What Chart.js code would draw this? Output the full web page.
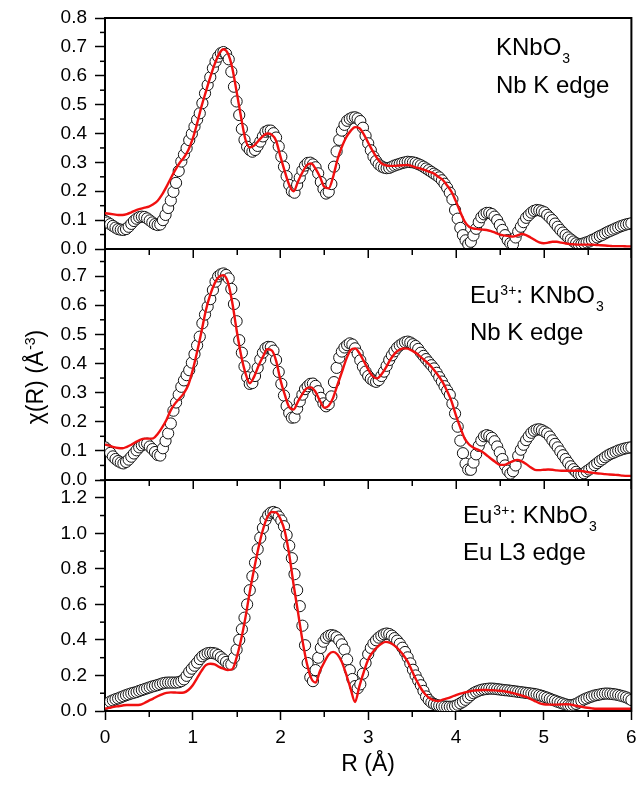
<!DOCTYPE html>
<html>
<head>
<meta charset="utf-8">
<script src="https://cdn.jsdelivr.net/npm/chart.js@4.4.1/dist/chart.umd.min.js"></script>
<style>
  html, body { margin: 0; padding: 0; background: #fff; }
  #wrap { width: 638px; height: 787px; }
</style>
</head>
<body>
<div id="wrap"><canvas id="chart" width="638" height="787"></canvas></div>
<script>
// ---- data ----------------------------------------------------------
// R grid of the measured points (Å)
const rExp = [
  0, 0.03, 0.06, 0.09, 0.12, 0.15, 0.18, 0.21, 0.24, 0.27,
  0.3, 0.33, 0.36, 0.39, 0.42, 0.45, 0.48, 0.51, 0.54, 0.57,
  0.6, 0.63, 0.66, 0.69, 0.72, 0.75, 0.78, 0.81, 0.84, 0.87,
  0.9, 0.93, 0.96, 0.99, 1.02, 1.05, 1.08, 1.11, 1.14, 1.17,
  1.2, 1.23, 1.26, 1.29, 1.32, 1.35, 1.38, 1.41, 1.44, 1.47,
  1.5, 1.53, 1.56, 1.59, 1.62, 1.65, 1.68, 1.71, 1.74, 1.77,
  1.8, 1.83, 1.86, 1.89, 1.92, 1.95, 1.98, 2.01, 2.04, 2.07,
  2.1, 2.13, 2.16, 2.19, 2.22, 2.25, 2.28, 2.31, 2.34, 2.37,
  2.4, 2.43, 2.46, 2.49, 2.52, 2.55, 2.58, 2.61, 2.64, 2.67,
  2.7, 2.73, 2.76, 2.79, 2.82, 2.85, 2.88, 2.91, 2.94, 2.97,
  3.0, 3.03, 3.06, 3.09, 3.12, 3.15, 3.18, 3.21, 3.24, 3.27,
  3.3, 3.33, 3.36, 3.39, 3.42, 3.45, 3.48, 3.51, 3.54, 3.57,
  3.6, 3.63, 3.66, 3.69, 3.72, 3.75, 3.78, 3.81, 3.84, 3.87,
  3.9, 3.93, 3.96, 3.99, 4.02, 4.05, 4.08, 4.11, 4.14, 4.17,
  4.2, 4.23, 4.26, 4.29, 4.32, 4.35, 4.38, 4.41, 4.44, 4.47,
  4.5, 4.53, 4.56, 4.59, 4.62, 4.65, 4.68, 4.71, 4.74, 4.77,
  4.8, 4.83, 4.86, 4.89, 4.92, 4.95, 4.98, 5.01, 5.04, 5.07,
  5.1, 5.13, 5.16, 5.19, 5.22, 5.25, 5.28, 5.31, 5.34, 5.37,
  5.4, 5.43, 5.46, 5.49, 5.52, 5.55, 5.58, 5.61, 5.64, 5.67,
  5.7, 5.73, 5.76, 5.79, 5.82, 5.85, 5.88, 5.91, 5.94, 5.97,
  6.0
];

// R grid of the fitted curves (Å)
const rFit = [
  0, 0.05, 0.1, 0.15, 0.2, 0.25, 0.3, 0.35, 0.4, 0.45,
  0.5, 0.55, 0.6, 0.65, 0.7, 0.75, 0.8, 0.85, 0.9, 0.95,
  1.0, 1.05, 1.1, 1.15, 1.2, 1.25, 1.3, 1.35, 1.4, 1.45,
  1.5, 1.55, 1.6, 1.65, 1.7, 1.75, 1.8, 1.85, 1.9, 1.95,
  2.0, 2.05, 2.1, 2.15, 2.2, 2.25, 2.3, 2.35, 2.4, 2.45,
  2.5, 2.55, 2.6, 2.65, 2.7, 2.75, 2.8, 2.85, 2.9, 2.95,
  3.0, 3.05, 3.1, 3.15, 3.2, 3.25, 3.3, 3.35, 3.4, 3.45,
  3.5, 3.55, 3.6, 3.65, 3.7, 3.75, 3.8, 3.85, 3.9, 3.95,
  4.0, 4.05, 4.1, 4.15, 4.2, 4.25, 4.3, 4.35, 4.4, 4.45,
  4.5, 4.55, 4.6, 4.65, 4.7, 4.75, 4.8, 4.85, 4.9, 4.95,
  5.0, 5.05, 5.1, 5.15, 5.2, 5.25, 5.3, 5.35, 5.4, 5.45,
  5.5, 5.55, 5.6, 5.65, 5.7, 5.75, 5.8, 5.85, 5.9, 5.95,
  6.0
];

// KNbO3, Nb K edge
const knbNbExp = [
  0.097, 0.092, 0.086, 0.080, 0.074, 0.069, 0.067, 0.066, 0.069, 0.077,
  0.087, 0.097, 0.105, 0.110, 0.112, 0.111, 0.106, 0.099, 0.092, 0.086,
  0.083, 0.085, 0.100, 0.118, 0.142, 0.168, 0.198, 0.229, 0.270, 0.303,
  0.327, 0.349, 0.377, 0.399, 0.424, 0.448, 0.470, 0.505, 0.539, 0.568,
  0.595, 0.626, 0.649, 0.666, 0.678, 0.682, 0.676, 0.657, 0.614, 0.562,
  0.511, 0.464, 0.416, 0.378, 0.354, 0.343, 0.337, 0.343, 0.357, 0.372,
  0.390, 0.406, 0.410, 0.410, 0.401, 0.386, 0.355, 0.320, 0.285, 0.252,
  0.222, 0.200, 0.195, 0.222, 0.247, 0.272, 0.289, 0.298, 0.299, 0.293,
  0.283, 0.262, 0.232, 0.208, 0.192, 0.198, 0.225, 0.285, 0.338, 0.378,
  0.410, 0.430, 0.444, 0.451, 0.455, 0.456, 0.452, 0.443, 0.420, 0.392,
  0.366, 0.342, 0.320, 0.305, 0.293, 0.286, 0.282, 0.280, 0.281, 0.285,
  0.289, 0.292, 0.295, 0.298, 0.300, 0.302, 0.301, 0.300, 0.298, 0.294,
  0.290, 0.285, 0.279, 0.273, 0.267, 0.261, 0.255, 0.248, 0.238, 0.226,
  0.212, 0.195, 0.172, 0.135, 0.105, 0.073, 0.048, 0.030, 0.017, 0.025,
  0.047, 0.070, 0.093, 0.110, 0.120, 0.125, 0.125, 0.121, 0.112, 0.100,
  0.083, 0.066, 0.048, 0.031, 0.020, 0.016, 0.040, 0.060, 0.077, 0.093,
  0.108, 0.117, 0.126, 0.132, 0.135, 0.134, 0.131, 0.127, 0.118, 0.109,
  0.100, 0.088, 0.077, 0.066, 0.057, 0.048, 0.040, 0.033, 0.026, 0.020,
  0.016, 0.017, 0.020, 0.023, 0.026, 0.031, 0.035, 0.040, 0.045, 0.049,
  0.054, 0.059, 0.063, 0.067, 0.071, 0.075, 0.079, 0.082, 0.085, 0.087,
  0.089
];
const knbNbFit = [
  0.124, 0.122, 0.120, 0.118, 0.118, 0.121, 0.127, 0.134, 0.139, 0.143,
  0.147, 0.155, 0.167, 0.188, 0.215, 0.245, 0.273, 0.298, 0.317, 0.343,
  0.382, 0.435, 0.494, 0.545, 0.595, 0.640, 0.676, 0.692, 0.678, 0.628,
  0.545, 0.458, 0.380, 0.352, 0.358, 0.375, 0.391, 0.400, 0.396, 0.375,
  0.320, 0.268, 0.222, 0.200, 0.234, 0.265, 0.290, 0.296, 0.278, 0.250,
  0.215, 0.210, 0.250, 0.310, 0.354, 0.387, 0.409, 0.422, 0.418, 0.397,
  0.368, 0.340, 0.315, 0.297, 0.290, 0.288, 0.288, 0.289, 0.290, 0.291,
  0.287, 0.282, 0.278, 0.273, 0.267, 0.261, 0.250, 0.239, 0.220, 0.198,
  0.165, 0.128, 0.095, 0.077, 0.071, 0.069, 0.067, 0.066, 0.062, 0.056,
  0.050, 0.047, 0.045, 0.043, 0.047, 0.052, 0.048, 0.040, 0.031, 0.023,
  0.020, 0.022, 0.025, 0.025, 0.022, 0.019, 0.017, 0.016, 0.015, 0.015,
  0.015, 0.015, 0.014, 0.013, 0.012, 0.011, 0.010, 0.010, 0.010, 0.009,
  0.009
];

// Eu3+:KNbO3, Nb K edge
const euNbExp = [
  0.112, 0.104, 0.093, 0.081, 0.072, 0.065, 0.060, 0.057, 0.062, 0.070,
  0.080, 0.091, 0.102, 0.112, 0.119, 0.124, 0.125, 0.115, 0.106, 0.096,
  0.086, 0.084, 0.109, 0.134, 0.160, 0.194, 0.238, 0.266, 0.293, 0.320,
  0.342, 0.360, 0.377, 0.403, 0.432, 0.462, 0.492, 0.538, 0.568, 0.595,
  0.621, 0.652, 0.681, 0.699, 0.706, 0.709, 0.704, 0.692, 0.656, 0.604,
  0.545, 0.480, 0.437, 0.390, 0.353, 0.330, 0.333, 0.357, 0.385, 0.414,
  0.437, 0.452, 0.457, 0.456, 0.444, 0.412, 0.371, 0.330, 0.290, 0.254,
  0.230, 0.214, 0.215, 0.245, 0.270, 0.293, 0.312, 0.322, 0.330, 0.331,
  0.323, 0.305, 0.282, 0.263, 0.253, 0.260, 0.287, 0.336, 0.385, 0.420,
  0.441, 0.455, 0.463, 0.469, 0.465, 0.452, 0.434, 0.411, 0.389, 0.372,
  0.357, 0.347, 0.341, 0.337, 0.343, 0.357, 0.372, 0.392, 0.412, 0.428,
  0.442, 0.454, 0.462, 0.468, 0.473, 0.475, 0.472, 0.466, 0.460, 0.450,
  0.437, 0.426, 0.415, 0.404, 0.394, 0.383, 0.368, 0.353, 0.338, 0.322,
  0.307, 0.292, 0.262, 0.228, 0.183, 0.135, 0.092, 0.056, 0.036, 0.035,
  0.060, 0.088, 0.117, 0.136, 0.150, 0.154, 0.151, 0.145, 0.133, 0.115,
  0.095, 0.072, 0.050, 0.032, 0.022, 0.030, 0.050, 0.083, 0.104, 0.121,
  0.137, 0.150, 0.162, 0.169, 0.173, 0.174, 0.171, 0.166, 0.160, 0.149,
  0.136, 0.124, 0.112, 0.098, 0.085, 0.072, 0.059, 0.047, 0.037, 0.028,
  0.020, 0.018, 0.023, 0.030, 0.036, 0.043, 0.051, 0.058, 0.065, 0.071,
  0.078, 0.084, 0.089, 0.093, 0.097, 0.101, 0.104, 0.107, 0.109, 0.111,
  0.112
];
const euNbFit = [
  0.122, 0.118, 0.113, 0.110, 0.109, 0.114, 0.121, 0.130, 0.138, 0.142,
  0.142, 0.143, 0.158, 0.180, 0.206, 0.240, 0.263, 0.280, 0.298, 0.327,
  0.377, 0.440, 0.510, 0.583, 0.636, 0.675, 0.698, 0.703, 0.680, 0.610,
  0.515, 0.430, 0.368, 0.332, 0.355, 0.392, 0.423, 0.449, 0.445, 0.410,
  0.343, 0.292, 0.250, 0.242, 0.270, 0.295, 0.315, 0.318, 0.302, 0.272,
  0.248, 0.255, 0.282, 0.327, 0.370, 0.415, 0.446, 0.452, 0.435, 0.408,
  0.380, 0.357, 0.349, 0.362, 0.385, 0.412, 0.433, 0.446, 0.452, 0.451,
  0.444, 0.435, 0.422, 0.409, 0.395, 0.378, 0.358, 0.335, 0.305, 0.270,
  0.222, 0.180, 0.142, 0.122, 0.111, 0.104, 0.097, 0.085, 0.073, 0.062,
  0.052, 0.052, 0.058, 0.065, 0.069, 0.064, 0.055, 0.044, 0.035, 0.034,
  0.035, 0.036, 0.035, 0.033, 0.032, 0.032, 0.032, 0.032, 0.032, 0.030,
  0.027, 0.025, 0.023, 0.022, 0.020, 0.019, 0.018, 0.017, 0.015, 0.014,
  0.014
];

// Eu3+:KNbO3, Eu L3 edge
const euEuExp = [
  0.040, 0.045, 0.053, 0.060, 0.066, 0.071, 0.077, 0.083, 0.089, 0.094,
  0.099, 0.103, 0.107, 0.113, 0.118, 0.123, 0.128, 0.133, 0.138, 0.142,
  0.146, 0.151, 0.156, 0.159, 0.160, 0.160, 0.160, 0.160, 0.162, 0.168,
  0.178, 0.198, 0.220, 0.238, 0.255, 0.272, 0.292, 0.308, 0.318, 0.325,
  0.327, 0.326, 0.323, 0.315, 0.303, 0.290, 0.276, 0.262, 0.262, 0.300,
  0.345, 0.400, 0.460, 0.525, 0.600, 0.680, 0.758, 0.835, 0.910, 0.975,
  1.030, 1.075, 1.102, 1.116, 1.120, 1.114, 1.094, 1.072, 1.040, 0.990,
  0.930, 0.860, 0.770, 0.680, 0.590, 0.480, 0.370, 0.270, 0.190, 0.168,
  0.230, 0.300, 0.355, 0.390, 0.412, 0.423, 0.427, 0.424, 0.415, 0.398,
  0.375, 0.345, 0.290, 0.230, 0.180, 0.140, 0.128, 0.150, 0.210, 0.270,
  0.320, 0.355, 0.380, 0.398, 0.413, 0.424, 0.432, 0.436, 0.433, 0.424,
  0.410, 0.396, 0.378, 0.356, 0.332, 0.302, 0.268, 0.232, 0.200, 0.172,
  0.145, 0.113, 0.082, 0.062, 0.048, 0.040, 0.034, 0.030, 0.027, 0.025,
  0.024, 0.024, 0.024, 0.028, 0.035, 0.043, 0.052, 0.063, 0.076, 0.089,
  0.100, 0.108, 0.114, 0.119, 0.122, 0.124, 0.126, 0.126, 0.125, 0.123,
  0.121, 0.119, 0.117, 0.116, 0.114, 0.112, 0.110, 0.108, 0.106, 0.104,
  0.102, 0.100, 0.098, 0.096, 0.093, 0.089, 0.085, 0.080, 0.075, 0.069,
  0.063, 0.058, 0.052, 0.047, 0.042, 0.037, 0.033, 0.032, 0.035, 0.040,
  0.048, 0.057, 0.065, 0.071, 0.077, 0.082, 0.087, 0.090, 0.093, 0.096,
  0.098, 0.098, 0.097, 0.095, 0.093, 0.090, 0.086, 0.082, 0.077, 0.070,
  0.062
];
const euEuFit = [
  0.013, 0.018, 0.023, 0.027, 0.031, 0.034, 0.034, 0.034, 0.035, 0.045,
  0.058, 0.070, 0.083, 0.094, 0.102, 0.105, 0.104, 0.103, 0.104, 0.118,
  0.145, 0.185, 0.226, 0.258, 0.266, 0.263, 0.248, 0.238, 0.231, 0.235,
  0.300, 0.399, 0.524, 0.670, 0.800, 0.920, 1.020, 1.090, 1.120, 1.118,
  1.080, 1.010, 0.880, 0.710, 0.555, 0.399, 0.270, 0.185, 0.160, 0.225,
  0.275, 0.318, 0.333, 0.318, 0.275, 0.205, 0.125, 0.051, 0.140, 0.220,
  0.290, 0.330, 0.358, 0.378, 0.389, 0.383, 0.368, 0.345, 0.315, 0.278,
  0.225, 0.173, 0.128, 0.094, 0.072, 0.060, 0.056, 0.064, 0.071, 0.080,
  0.090, 0.098, 0.104, 0.110, 0.115, 0.117, 0.118, 0.118, 0.117, 0.116,
  0.114, 0.111, 0.107, 0.101, 0.094, 0.087, 0.079, 0.068, 0.056, 0.045,
  0.038, 0.036, 0.036, 0.036, 0.037, 0.038, 0.037, 0.032, 0.027, 0.022,
  0.018, 0.015, 0.013, 0.013, 0.013, 0.013, 0.013, 0.013, 0.013, 0.013,
  0.013
];

// ---- panels --------------------------------------------------------
const FONT = '"Liberation Sans", Arial, Helvetica, sans-serif';

// top -> bottom
const panels = [
  { id: 'yTop', max: 0.8,   step: 0.1, exp: knbNbExp, fit: knbNbFit,
    note: [[{ t: 'KNbO' }, { t: '3', s: 'sub' }], [{ t: 'Nb K edge' }]],
    noteX: 496, noteY: [37, 74.5] },
  { id: 'yMid', max: 0.793, step: 0.1, exp: euNbExp, fit: euNbFit,
    note: [[{ t: 'Eu' }, { t: '3+', s: 'sup' }, { t: ': KNbO' }, { t: '3', s: 'sub' }], [{ t: 'Nb K edge' }]],
    noteX: 470, noteY: [53.5, 91] },
  { id: 'yBot', max: 1.3,   step: 0.2, exp: euEuExp, fit: euEuFit,
    note: [[{ t: 'Eu' }, { t: '3+', s: 'sup' }, { t: ': KNbO' }, { t: '3', s: 'sub' }], [{ t: 'Eu L3 edge' }]],
    noteX: 463, noteY: [42.5, 80] }
];

const pts = (xs, ys) => xs.map((x, i) => ({ x, y: ys[i] }));

const datasets = [];
panels.forEach(p => {
  datasets.push({
    data: pts(rFit, p.fit),
    yAxisID: p.id,
    borderColor: '#f01010',
    borderWidth: 2.4,
    pointRadius: 0,
    cubicInterpolationMode: 'monotone',
    order: 0
  });
  datasets.push({
    data: pts(rExp, p.exp),
    yAxisID: p.id,
    showLine: false,
    pointRadius: 5.6,
    pointBorderWidth: 1,
    pointBorderColor: '#111',
    pointBackgroundColor: '#fff',
    order: 1
  });
});

function yScale(p) {
  return {
    type: 'linear',
    position: 'left',
    stack: 'panels',
    stackWeight: 1,
    min: 0,
    max: p.max,
    afterFit: s => { s.width = 105; s.paddingTop = 0; s.paddingBottom = 0; },
    border: { display: true, color: '#000', width: 2 },
    grid: { drawOnChartArea: false, drawTicks: true, tickLength: 10, tickColor: '#000', tickWidth: 1.5 },
    ticks: {
      stepSize: p.step,
      includeBounds: false,
      autoSkip: false,
      padding: 8,
      color: '#000',
      font: { family: FONT, size: 19 },
      callback: v => v.toFixed(1)
    }
  };
}

// axis decorations that Chart.js has no option for: minor ticks,
// inner panel separators with their R ticks, top/right frame
const framePlugin = {
  id: 'frame',
  afterDatasetsDraw(chart) {
    const { ctx, chartArea: a, scales } = chart;
    const xs = scales.x;
    ctx.save();
    ctx.strokeStyle = '#000';
    ctx.lineCap = 'butt';

    ctx.lineWidth = 2;
    ctx.beginPath();
    ctx.moveTo(a.left - 1, a.top);
    ctx.lineTo(a.right, a.top);
    ctx.lineTo(a.right, a.bottom + 1);
    ctx.stroke();

    panels.forEach((p, k) => {
      const s = scales[p.id];
      const last = k === panels.length - 1;
      if (!last) {
        ctx.lineWidth = 2;
        ctx.beginPath();
        ctx.moveTo(a.left, s.bottom);
        ctx.lineTo(a.right, s.bottom);
        ctx.stroke();
      }
      // R ticks below each panel (bottom panel majors come from Chart.js)
      ctx.lineWidth = 1.5;
      for (let i = 0; i <= 12; i++) {
        const major = i % 2 === 0;
        if (last && major) continue;
        const px = Math.round(xs.getPixelForValue(i / 2)) + 0.25;
        ctx.beginPath();
        ctx.moveTo(px, s.bottom);
        ctx.lineTo(px, s.bottom + (major ? 9 : 6));
        ctx.stroke();
      }
      // minor y ticks halfway between labelled ones
      const half = p.step / 2;
      for (let i = 1; i * half <= p.max + 1e-9; i += 2) {
        const py = s.getPixelForValue(i * half);
        ctx.beginPath();
        ctx.moveTo(s.right - 5, py);
        ctx.lineTo(s.right, py);
        ctx.stroke();
      }
    });
    ctx.restore();
  },
  afterDraw(chart) {
    const { ctx, scales } = chart;
    ctx.save();
    ctx.fillStyle = '#000';
    ctx.textBaseline = 'alphabetic';
    ctx.textAlign = 'left';

    panels.forEach(p => {
      const s = scales[p.id];
      p.note.forEach((line, j) => drawRich(ctx, p.noteX, s.top + p.noteY[j], line, 24));
    });

    // y title with superscript, rotated
    const parts = [{ t: 'χ(R) (Å' }, { t: '-3', s: 'sup' }, { t: ')' }];
    ctx.translate(43, 377);
    ctx.rotate(-Math.PI / 2);
    const w = richWidth(ctx, parts, 23);
    drawRich(ctx, -w / 2, 0, parts, 23);
    ctx.restore();
  }
};

function partFont(p, size) {
  return (p.s ? 14 : size) + 'px ' + FONT;
}
function richWidth(ctx, parts, size) {
  let w = 0;
  parts.forEach(p => { ctx.font = partFont(p, size); w += ctx.measureText(p.t).width + (p.s ? 1 : 0); });
  return w;
}
function drawRich(ctx, x, y, parts, size) {
  let cx = x;
  parts.forEach(p => {
    ctx.font = partFont(p, size);
    const dy = p.s === 'sup' ? -8 : p.s === 'sub' ? 8 : 0;
    ctx.fillText(p.t, cx + (p.s ? 1 : 0), y + dy);
    cx += ctx.measureText(p.t).width + (p.s ? 1 : 0);
  });
}

const scales = {
  x: {
    type: 'linear',
    position: 'bottom',
    min: 0,
    max: 6,
    // keep the plot edge fixed; the end labels may hang over it
    afterFit: s => { s.height = 76; s.paddingLeft = 0; s.paddingRight = 0; },
    border: { display: true, color: '#000', width: 2 },
    grid: { drawOnChartArea: false, drawTicks: true, tickLength: 9, tickColor: '#000', tickWidth: 1.5 },
    ticks: { stepSize: 1, padding: 6, color: '#000', font: { family: FONT, size: 19 } },
    title: { display: true, text: 'R (Å)', color: '#000', font: { family: FONT, size: 23 }, padding: { top: 0, bottom: 9 } }
  }
};
// added bottom panel first so the layout stacks it lowest
[...panels].reverse().forEach(p => { scales[p.id] = yScale(p); });

new Chart(document.getElementById('chart'), {
  type: 'line',
  data: { datasets },
  options: {
    responsive: false,
    animation: false,
    layout: { padding: { left: 0, right: 3, top: 18, bottom: 0 } },
    plugins: { legend: { display: false }, tooltip: { enabled: false } },
    scales
  },
  plugins: [framePlugin]
});
</script>
</body>
</html>
